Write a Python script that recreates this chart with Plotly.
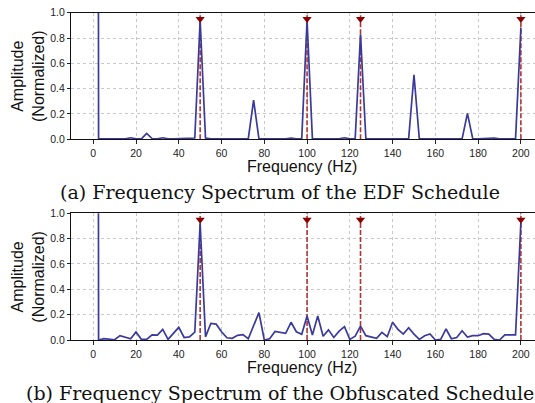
import plotly.graph_objects as go

W, H = 535, 403

freqs = [0, 2.5, 5, 7.5, 10, 12.5, 15, 17.5, 20, 22.5,
         25, 27.5, 30, 32.5, 35, 37.5, 40, 42.5, 45, 47.5,
         50, 52.5, 55, 57.5, 60, 62.5, 65, 67.5, 70, 72.5,
         75, 77.5, 80, 82.5, 85, 87.5, 90, 92.5, 95, 97.5,
         100, 102.5, 105, 107.5, 110, 112.5, 115, 117.5, 120, 122.5,
         125, 127.5, 130, 132.5, 135, 137.5, 140, 142.5, 145, 147.5,
         150, 152.5, 155, 157.5, 160, 162.5, 165, 167.5, 170, 172.5,
         175, 177.5, 180, 182.5, 185, 187.5, 190, 192.5, 195, 197.5,
         200]

edf_amp = [40, 0.003, 0.003, 0.003, 0.003, 0.002, 0.003, 0.012, 0.003, 0.003,
           0.047, 0.006, 0.003, 0.012, 0.003, 0.003, 0.004, 0.01, 0.01, 0.01,
           0.94, 0.01, 0.004, 0.003, 0.003, 0.004, 0.003, 0.003, 0.004, 0.003,
           0.31, 0.003, 0.003, 0.003, 0.003, 0.003, 0.004, 0.01, 0.004, 0.004,
           0.94, 0.004, 0.003, 0.003, 0.003, 0.003, 0.004, 0.012, 0.003, 0.003,
           0.83, 0.003, 0.003, 0.003, 0.003, 0.003, 0.003, 0.003, 0.003, 0.003,
           0.51, 0.003, 0.003, 0.003, 0.003, 0.003, 0.003, 0.003, 0.003, 0.003,
           0.205, 0.003, 0.003, 0.004, 0.006, 0.01, 0.004, 0.003, 0.003, 0.004,
           0.88]

obf_amp = [40, 0.0, 0.01, 0.008, 0.002, 0.034, 0.025, 0.01, 0.063, 0.005,
           0.005, 0.04, 0.038, 0.084, 0.005, 0.05, 0.1, 0.02, 0.025, 0.063,
           0.92, 0.025, 0.13, 0.125, 0.065, 0.018, 0.013, 0.037, 0.042, 0.01,
           0.11, 0.216, 0.0, 0.01, 0.067, 0.06, 0.052, 0.14, 0.065, 0.045,
           0.19, 0.04, 0.19, 0.03, 0.08, 0.02, 0.07, 0.105, 0.005, 0.03,
           0.11, 0.034, 0.026, 0.013, 0.06, 0.026, 0.14, 0.084, 0.047, 0.097,
           0.047, 0.005, 0.034, 0.047, 0.0, 0.005, 0.087, 0.01, 0.02, 0.073,
           0.024, 0.034, 0.034, 0.05, 0.047, 0.005, 0.0, 0.04, 0.04, 0.04,
           0.93]

marked_freqs = [50, 100, 125, 200]
marker_level = 0.95

x_ticks = [0, 20, 40, 60, 80, 100, 120, 140, 160, 180, 200]
y_ticks = [0.0, 0.2, 0.4, 0.6, 0.8, 1.0]

captions = ["(a) Frequency Spectrum of the EDF Schedule",
            "(b) Frequency Spectrum of the Obfuscated Schedule"]

BLUE = "#3a3a9c"
RED_LINE = "#b03434"
RED_MARK = "#8b0000"
SANS = "Liberation Sans, Arial, sans-serif"
SERIF = "DejaVu Serif, serif"

# pixel geometry
left_px = 71
plots_px = [(12.7, 139.3), (213.3, 340.0)]

fig = go.Figure()

for i, amps in enumerate([edf_amp, obf_amp]):
    xa = "x" if i == 0 else "x2"
    ya = "y" if i == 0 else "y2"
    sx, sy = [], []
    for f in marked_freqs:
        sx += [f, f, None]
        sy += [0, 1, None]
    fig.add_trace(go.Scatter(x=sx, y=sy, mode="lines", xaxis=xa, yaxis=ya,
                             line=dict(color=RED_LINE, width=1.6, dash="5px,2px"),
                             hoverinfo="skip", showlegend=False))
    fig.add_trace(go.Scatter(x=freqs, y=amps, mode="lines", xaxis=xa, yaxis=ya,
                             line=dict(color=BLUE, width=1.7),
                             showlegend=False))
    fig.add_trace(go.Scatter(x=marked_freqs, y=[marker_level] * len(marked_freqs),
                             mode="markers", xaxis=xa, yaxis=ya,
                             marker=dict(symbol="triangle-down", size=8, color=RED_MARK),
                             cliponaxis=False, showlegend=False))

axis_common_x = dict(range=[-10.4, 206.6], tickvals=x_ticks, ticks="outside", ticklen=4,
                     tickcolor="#222", showline=True, linecolor="#111", linewidth=1,
                     mirror=True, showgrid=True, gridcolor="#c8c8c8", griddash="dot",
                     gridwidth=1, zeroline=False, automargin=False,
                     tickfont=dict(family=SANS, size=10.5, color="#222"))
axis_common_y = dict(range=[0, 1], tickvals=y_ticks, tickformat=".1f", ticks="outside",
                     ticklen=3, tickcolor="#222", showline=True, linecolor="#111",
                     linewidth=1, showgrid=True, gridcolor="#c8c8c8", griddash="dot",
                     gridwidth=1, zeroline=False, automargin=False,
                     tickfont=dict(family=SANS, size=10.5, color="#222"))

def ydom(top, bot):
    return [1 - bot / H, 1 - top / H]

layout = dict(
    width=W, height=H, margin=dict(l=0, r=0, t=0, b=0),
    paper_bgcolor="white", plot_bgcolor="white",
    xaxis=dict(domain=[left_px / W, 1], anchor="y", **axis_common_x),
    yaxis=dict(domain=ydom(*plots_px[0]), anchor="x", **axis_common_y),
    xaxis2=dict(domain=[left_px / W, 1], anchor="y2", **axis_common_x),
    yaxis2=dict(domain=ydom(*plots_px[1]), anchor="x2", **axis_common_y),
)
fig.update_layout(**layout)

annotations = []
for i, (top, bot) in enumerate(plots_px):
    annotations.append(dict(text="Amplitude<br>(Normalized)", textangle=-90,
                            x=28 / W, y=1 - ((top + bot) / 2) / H, xref="paper", yref="paper",
                            xanchor="center", yanchor="middle", showarrow=False,
                            font=dict(family=SANS, size=16, color="#111")))
    annotations.append(dict(text="Frequency (Hz)", x=301.5 / W, y=1 - (bot + 27.5) / H,
                            xref="paper", yref="paper", xanchor="center", yanchor="middle",
                            showarrow=False, font=dict(family=SANS, size=16, color="#111")))
    annotations.append(dict(text=captions[i], x=280 / W, y=1 - (bot + 52.5) / H,
                            xref="paper", yref="paper", xanchor="center", yanchor="middle",
                            showarrow=False, font=dict(family=SERIF, size=19, color="#111")))
fig.update_layout(annotations=annotations)

fig.write_html("out.html", config={"displayModeBar": False},
               post_script="document.body.style.margin='0';document.body.style.overflow='hidden';")
